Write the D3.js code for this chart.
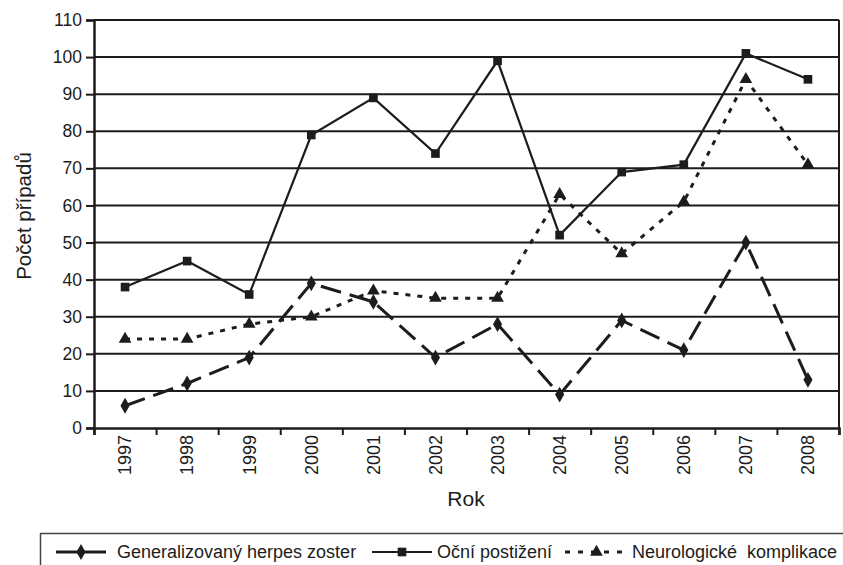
<!DOCTYPE html>
<html>
<head>
<meta charset="utf-8">
<script src="https://cdn.jsdelivr.net/npm/d3@7"></script>
<style>
  body { margin: 0; background: #fff; }
  svg { display: block; font-family: "Liberation Sans", Arial, sans-serif; }
</style>
</head>
<body>
<div id="chart-area"></div>
<script>
const years = ['1997','1998','1999','2000','2001','2002','2003','2004','2005','2006','2007','2008'];
const generalizovany = [6, 12, 19, 39, 34, 19, 28, 9, 29, 21, 50, 13];
const ocni = [38, 45, 36, 79, 89, 74, 99, 52, 69, 71, 101, 94];
const neuro = [24, 24, 28, 30, 37, 35, 35, 63, 47, 61, 94, 71];
const yTicks = [0, 10, 20, 30, 40, 50, 60, 70, 80, 90, 100, 110];
const seriesNames = ['Generalizovaný herpes zoster', 'Oční postižení', 'Neurologické  komplikace'];

const W = 843, H = 565;
const plot = { left: 94, right: 839, top: 20, bottom: 428 };
const ink = '#1c1c1c';

let svg = d3.select('#chart-area')
  .append('svg')
  .attr('width', W)
  .attr('height', H);

let x = d3.scaleBand()
  .domain(years)
  .range([plot.left, plot.right]);

let xEdge = d3.scaleLinear()
  .domain([0, years.length])
  .range([plot.left, plot.right]);

let y = d3.scaleLinear()
  .domain([0, 110])
  .range([plot.bottom, plot.top]);

// gridlines
svg.append('g')
  .selectAll('line')
  .data(yTicks.filter(d => d > 0))
  .enter().append('line')
  .attr('x1', plot.left).attr('x2', plot.right)
  .attr('y1', d => y(d)).attr('y2', d => y(d))
  .attr('stroke', ink)
  .attr('stroke-width', 2);

// right border
svg.append('line')
  .attr('x1', plot.right).attr('x2', plot.right)
  .attr('y1', plot.top).attr('y2', plot.bottom)
  .attr('stroke', ink).attr('stroke-width', 2);

// y axis
let yAxis = svg.append('g')
  .attr('transform', 'translate(' + plot.left + ',0)')
  .call(d3.axisLeft(y).tickValues(yTicks).tickSize(8).tickPadding(4));
yAxis.select('.domain').attr('stroke', ink).attr('stroke-width', 2.5);
yAxis.selectAll('.tick line').attr('stroke', ink).attr('stroke-width', 2);
yAxis.selectAll('.tick text')
  .attr('fill', ink)
  .attr('font-size', '17.5px')
  .attr('font-family', '"Liberation Sans", Arial, sans-serif');

// x axis: tick marks on category boundaries
let xAxis = svg.append('g')
  .attr('transform', 'translate(0,' + plot.bottom + ')')
  .call(d3.axisBottom(xEdge).ticks(years.length).tickSize(7).tickFormat(''));
xAxis.select('.domain').attr('stroke', ink).attr('stroke-width', 2.5);
xAxis.selectAll('.tick line').attr('stroke', ink).attr('stroke-width', 2);

// rotated year labels
svg.append('g')
  .selectAll('text')
  .data(years)
  .enter().append('text')
  .attr('transform', d => 'translate(' + (x(d) + x.bandwidth() / 2) + ',' + (plot.bottom + 7) + ') rotate(-90)')
  .attr('text-anchor', 'end')
  .attr('dy', '0.35em')
  .attr('font-size', '18px')
  .attr('fill', ink)
  .text(d => d);

// axis titles
svg.append('text')
  .attr('x', 466)
  .attr('y', 506)
  .attr('text-anchor', 'middle')
  .attr('font-size', '21px')
  .attr('fill', ink)
  .text('Rok');

svg.append('text')
  .attr('transform', 'translate(31,' + 216 + ') rotate(-90)')
  .attr('text-anchor', 'middle')
  .attr('font-size', '20.5px')
  .attr('fill', ink)
  .text('Počet případů');

// lines
const cx = (d, i) => x(years[i]) + x.bandwidth() / 2;

const series = [
  { values: generalizovany, dash: '21,9', width: 3, marker: 'diamond' },
  { values: ocni, dash: null, width: 2.2, marker: 'square' },
  { values: neuro, dash: '5,7', width: 3, marker: 'triangle' }
];

const symbolFor = {
  diamond: d3.symbol().type(d3.symbolDiamond).size(72),
  square: d3.symbol().type(d3.symbolSquare).size(75),
  triangle: d3.symbol().type(d3.symbolTriangle).size(70)
};

let line = d3.line()
  .x(cx)
  .y(d => y(d));

series.forEach(s => {
  svg.append('path')
    .datum(s.values)
    .attr('d', line)
    .attr('fill', 'none')
    .attr('stroke', ink)
    .attr('stroke-width', s.width)
    .attr('stroke-dasharray', s.dash);

  svg.append('g')
    .selectAll('path')
    .data(s.values)
    .enter().append('path')
    .attr('d', symbolFor[s.marker])
    .attr('transform', (d, i) => 'translate(' + cx(d, i) + ',' + y(d) + ')')
    .attr('fill', ink);
});

// legend
let legend = svg.append('g');
legend.append('line')
  .attr('x1', 40).attr('x2', W)
  .attr('y1', 533.5).attr('y2', 533.5)
  .attr('stroke', '#444').attr('stroke-width', 1.5);
legend.append('line')
  .attr('x1', 40.5).attr('x2', 40.5)
  .attr('y1', 533).attr('y2', H)
  .attr('stroke', '#444').attr('stroke-width', 1.5);

const legendY = 552;
const legendItems = [
  { x1: 56, x2: 106, tx: 117, dash: null, width: 3 },
  { x1: 372, x2: 432, tx: 437, dash: null, width: 2.2 },
  { x1: 565, x2: 628, tx: 632, dash: '5,8', width: 3 }
];

legendItems.forEach((item, i) => {
  legend.append('line')
    .attr('x1', item.x1).attr('x2', item.x2)
    .attr('y1', legendY).attr('y2', legendY)
    .attr('stroke', ink)
    .attr('stroke-width', item.width)
    .attr('stroke-dasharray', item.dash);
  legend.append('path')
    .attr('d', symbolFor[series[i].marker])
    .attr('transform', 'translate(' + ((item.x1 + item.x2) / 2) + ',' + legendY + ')')
    .attr('fill', ink);
  legend.append('text')
    .attr('x', item.tx)
    .attr('y', legendY)
    .attr('dy', '0.35em')
    .attr('font-size', '18px')
    .attr('fill', ink)
    .style('white-space', 'pre')
    .text(seriesNames[i]);
});
</script>
</body>
</html>
